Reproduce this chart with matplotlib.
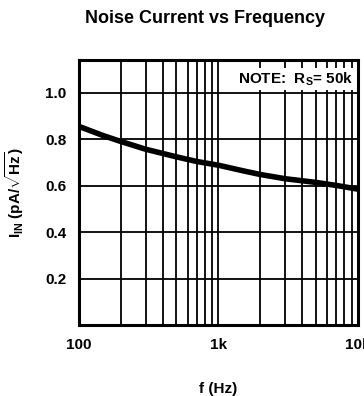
import matplotlib
matplotlib.use("Agg")
import matplotlib.pyplot as plt
from matplotlib.ticker import FixedLocator, NullFormatter

freq = [100, 150, 200, 300, 500, 700, 1000, 1500, 2000, 3000, 5000, 7000, 10000]
noise = [0.855, 0.815, 0.79, 0.757, 0.724, 0.704, 0.688, 0.664, 0.648, 0.630, 0.614, 0.601, 0.585]
y_ticks = [0.2, 0.4, 0.6, 0.8, 1.0]
y_labels = ["0.2", "0.4", "0.6", "0.8", "1.0"]
x_ticks = [100, 1000, 10000]
x_labels = ["100", "1k", "10k"]

plt.rcParams['font.family'] = ['Liberation Sans', 'DejaVu Sans']
plt.rcParams['mathtext.fontset'] = 'custom'
plt.rcParams['mathtext.rm'] = 'Liberation Sans:bold'
plt.rcParams['mathtext.bf'] = 'Liberation Sans:bold'

fig = plt.figure(figsize=(3.64, 3.96), dpi=100)
ax = fig.add_axes([0.217, 0.179, 0.9835 - 0.217, 0.848 - 0.179])

ax.set_xscale('log')
ax.set_xlim(100, 10000)
ax.set_ylim(0, 1.14)

minor = [m * d for d in (100, 1000) for m in range(2, 10)]
ax.xaxis.set_minor_locator(FixedLocator(minor))
ax.xaxis.set_minor_formatter(NullFormatter())
ax.set_xticks(x_ticks)
ax.set_xticklabels(x_labels, fontweight='bold', fontsize=11)
ax.set_yticks(y_ticks)
ax.set_yticklabels(y_labels, fontweight='bold', fontsize=11)
ax.tick_params(which='both', length=0, pad=9)

ax.grid(True, which='both', axis='x', color='black', linewidth=1.3)
ax.grid(True, which='major', axis='y', color='black', linewidth=1.3)
for s in ax.spines.values():
    s.set_linewidth(2.2)

ax.plot(freq, noise, color='black', linewidth=4, solid_capstyle='butt',
        solid_joinstyle='round', clip_on=True)

ax.text(0.985, 0.93, r'NOTE:  R$_\mathbf{S}$= 50k', transform=ax.transAxes,
        ha='right', va='center', fontsize=11, fontweight='bold',
        bbox=dict(facecolor='white', edgecolor='none', pad=1.5))

fig.text(0.563, 0.953, 'Noise Current vs Frequency', ha='center', va='center',
         fontsize=13, fontweight='bold')
ax.set_xlabel('f (Hz)', fontweight='bold', fontsize=11, labelpad=22)
ax.set_ylabel(r'I$_\mathbf{IN}$ (pA/$\sqrt{\mathbf{Hz}}$)', fontweight='bold', fontsize=11, labelpad=14)

fig.savefig('out.png', dpi=100)
